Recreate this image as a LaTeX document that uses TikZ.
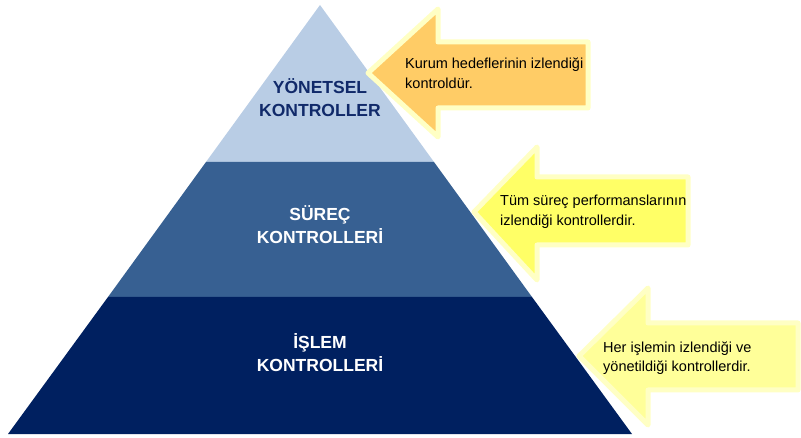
\documentclass[tikz,border=0pt]{standalone}
\usepackage{fontspec}
\setmainfont{Liberation Sans}
\definecolor{lvlA}{HTML}{B9CDE5}
\definecolor{lvlB}{HTML}{376092}
\definecolor{lvlC}{HTML}{002060}
\definecolor{navytxt}{HTML}{112A6A}
\definecolor{arrA}{HTML}{FFCC66}
\definecolor{arrB}{HTML}{FFFF66}
\definecolor{arrC}{HTML}{FFFF99}
\definecolor{glowc}{HTML}{FFFFC4}
\tikzset{
  lvltext/.style={font=\fontsize{17.5}{23}\selectfont\bfseries, align=center, inner sep=0pt},
  arrtext/.style={font=\fontsize{14.5}{19.5}\selectfont, align=left, anchor=west, inner sep=0pt, text=black},
  glow/.style={draw=glowc, line width=5pt, line join=round},
}
\begin{document}
\begin{tikzpicture}[x=1pt,y=-1pt]
\useasboundingbox (0,0) rectangle (801,438);
% pyramid layers
\fill[lvlA] (320,5) -- (434,162) -- (206,162) -- cycle;
\fill[lvlB] (206,162) -- (434,162) -- (532,297) -- (108,297) -- cycle;
\fill[lvlC] (108,297) -- (532,297) -- (632,434) -- (8,434) -- cycle;
% labels
\node[lvltext, text=navytxt] (t1) at (320,98) {YÖNETSEL\\KONTROLLER};
\node[lvltext, text=white] (t2) at (320,225) {SÜREÇ\\KONTROLLERİ};
\node[lvltext, text=white] (t3) at (320,353) {İŞLEM\\KONTROLLERİ};
% arrows
\draw[glow, fill=arrA] (368,73) -- (438,9) -- (438,42) -- (588,42) -- (588,108) -- (438,108) -- (438,137) -- cycle;
\draw[glow, fill=arrB] (474,212) -- (537,147) -- (537,177) -- (688,177) -- (688,245) -- (537,245) -- (537,280) -- cycle;
\draw[glow, fill=arrC] (579,356) -- (648,288) -- (648,323) -- (798,323) -- (798,390) -- (648,390) -- (648,425) -- cycle;
\node[arrtext] (a1) at (405,73) {Kurum hedeflerinin izlendiği\\kontroldür.};
\node[arrtext] (a2) at (500,212) {Tüm süreç performanslarının\\izlendiği kontrollerdir.};
\node[arrtext] (a3) at (603,358) {Her işlemin izlendiği ve\\yönetildiği kontrollerdir.};
\end{tikzpicture}
\end{document}
